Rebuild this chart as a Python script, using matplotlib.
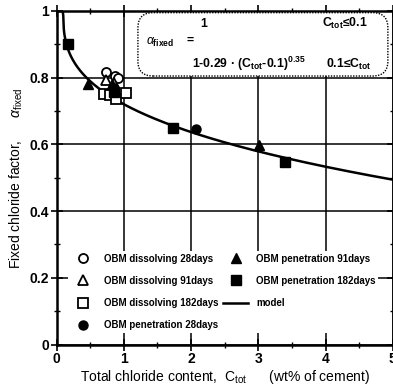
import numpy as np
import matplotlib
matplotlib.use("Agg")
import matplotlib.pyplot as plt
from matplotlib.patches import FancyBboxPatch
from matplotlib.ticker import MultipleLocator

plt.rcParams["font.family"] = ["Liberation Sans", "DejaVu Sans"]
plt.rcParams["mathtext.fontset"] = "custom"
plt.rcParams["mathtext.rm"] = "Liberation Sans"
plt.rcParams["mathtext.it"] = "Liberation Sans:italic"
plt.rcParams["mathtext.bf"] = "Liberation Sans:bold"

# Measured fixed chloride factor vs. total chloride content (wt% of cement)
dis28_x = [0.73, 0.87, 0.92]
dis28_y = [0.818, 0.805, 0.80]
dis91_x = [0.74, 0.86]
dis91_y = [0.792, 0.783]
dis182_x = [0.70, 0.80, 0.88, 1.03]
dis182_y = [0.751, 0.748, 0.735, 0.753]
pen28_x = [0.85, 2.07]
pen28_y = [0.770, 0.645]
pen91_x = [0.47, 0.83, 3.01]
pen91_y = [0.780, 0.780, 0.597]
pen182_x = [0.17, 0.85, 1.73, 3.40]
pen182_y = [0.902, 0.757, 0.648, 0.547]

# Model: alpha = 1 for C <= 0.1, else 1 - 0.29 (C - 0.1)^0.35
MODEL_A = 0.29
MODEL_C0 = 0.1
MODEL_P = 0.35

x_ticks = [0, 1, 2, 3, 4, 5]
y_ticks = [0, 0.2, 0.4, 0.6, 0.8, 1]

fig = plt.figure(figsize=(3.93, 3.87), dpi=100)
ax = fig.add_axes([0.1438, 0.1098, 0.8560, 0.8618])
ax.set_xlim(0, 5)
ax.set_ylim(0, 1)

ax.set_xticks(x_ticks)
ax.set_xticklabels([str(t) for t in x_ticks])
ax.set_yticks(y_ticks)
ax.set_yticklabels(["0", "0.2", "0.4", "0.6", "0.8", "1"])
ax.xaxis.set_minor_locator(MultipleLocator(0.5))
ax.yaxis.set_minor_locator(MultipleLocator(0.1))
ax.tick_params(which="major", direction="inout", length=8, width=1.2,
               labelsize=10, top=True, right=True, pad=1.5)
ax.tick_params(which="minor", direction="inout", length=4, width=1.0,
               top=True, right=True)
for lab in ax.get_xticklabels() + ax.get_yticklabels():
    lab.set_fontweight("bold")
for s in ax.spines.values():
    s.set_linewidth(1.8)

ax.grid(True, which="major", color="black", linewidth=1.1, zorder=0)

# model curve
cx = np.linspace(0, 5, 600)
cy = np.where(cx <= MODEL_C0, 1.0,
              1 - MODEL_A * np.clip(cx - MODEL_C0, 0, None) ** MODEL_P)
ax.plot(cx, cy, color="black", lw=1.8, zorder=3, label="model")

ms = 6.5
ax.plot(dis28_x, dis28_y, "o", ms=ms, mfc="white", mec="black", mew=1.3,
        ls="none", zorder=4, label="OBM dissolving 28days")
ax.plot(dis91_x, dis91_y, "^", ms=ms, mfc="white", mec="black", mew=1.3,
        ls="none", zorder=4, label="OBM dissolving 91days")
ax.plot(dis182_x, dis182_y, "s", ms=ms, mfc="white", mec="black", mew=1.3,
        ls="none", zorder=4, label="OBM dissolving 182days")
ax.plot(pen28_x, pen28_y, "o", ms=ms, color="black", ls="none", zorder=5,
        label="OBM penetration 28days")
ax.plot(pen91_x, pen91_y, "^", ms=ms, color="black", ls="none", zorder=5,
        label="OBM penetration 91days")
ax.plot(pen182_x, pen182_y, "s", ms=ms, color="black", ls="none", zorder=5,
        label="OBM penetration 182days")

handles, labels = ax.get_legend_handles_labels()
order = [1, 2, 3, 4, 5, 6, 0]
leg = ax.legend([handles[i] for i in order], [labels[i] for i in order],
                ncol=2, loc="lower left", bbox_to_anchor=(0.02, 0.02),
                fontsize=7, frameon=True, fancybox=False, framealpha=1,
                facecolor="white", edgecolor="none", handlelength=2.5,
                handletextpad=0.85, labelspacing=1.25, columnspacing=0.55,
                borderpad=0.3)
leg.set_zorder(6)
for t in leg.get_texts():
    t.set_fontweight("bold")

# equation box
box = FancyBboxPatch((0.242, 0.805), 0.743, 0.19,
                     boxstyle="round,pad=0.0,rounding_size=0.045",
                     transform=ax.transAxes, facecolor="white",
                     edgecolor="black", linestyle=(0, (1, 1)), lw=1.0,
                     zorder=7)
ax.add_patch(box)
tk = dict(transform=ax.transAxes, fontsize=8.8, fontweight="bold", zorder=8,
          va="center")
ax.text(0.265, 0.905, r"$\alpha_{\mathbf{fixed}}$    =", ha="left", **tk)
ax.text(0.426, 0.962, "1", ha="left", **tk)
ax.text(0.790, 0.962, "C$_{\\mathbf{tot}}$≤0.1", ha="left", **tk)
ax.text(0.404, 0.840, "1-0.29 · (C$_{\\mathbf{tot}}$-0.1)$^{\\mathbf{0.35}}$",
        ha="left", **tk)
ax.text(0.800, 0.840, "0.1≤C$_{\\mathbf{tot}}$", ha="left", **tk)

ax.set_xlabel("Total chloride content,  C$_{\\mathrm{tot}}$      (wt% of cement)",
              fontsize=10, labelpad=1)
ax.set_ylabel("Fixed chloride factor,      $\\alpha_{\\mathrm{fixed}}$",
              fontsize=10, labelpad=3)

fig.savefig("out.png", dpi=100)
